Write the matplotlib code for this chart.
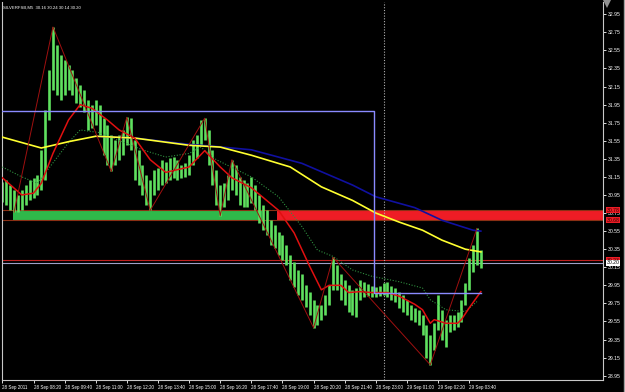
import matplotlib
matplotlib.use("Agg")
import matplotlib.pyplot as plt
from matplotlib import font_manager as fm
from matplotlib.transforms import blended_transform_factory
from matplotlib.patches import Rectangle, Polygon

# pick a narrow font if available (MetaTrader uses a compact pixel font)
try:
    fm.findfont("Liberation Sans Narrow", fallback_to_default=False)
    LABEL_FONT, XFS, YFS, TFS = "Liberation Sans Narrow", 3.95, 4.4, 3.8
except Exception:
    LABEL_FONT, XFS, YFS, TFS = "Liberation Sans", 3.25, 3.7, 3.1
plt.rcParams['font.family'] = [LABEL_FONT, 'DejaVu Sans']

# ---------------- data (one bar = 10 minutes, index from chart start) ----------
bar_high = [31.09,31.12,31.06,31.01,30.95,31.01,31.06,31.12,31.14,31.17,
            31.45,31.89,32.33,32.81,32.61,32.50,32.44,32.39,32.33,32.24,
            32.17,32.11,32.00,31.95,32.00,31.95,31.80,31.72,31.61,31.56,
            31.61,31.67,31.81,31.80,31.56,31.45,31.28,31.17,31.12,31.23,
            31.25,31.34,31.32,31.36,31.37,31.34,31.28,31.30,31.39,31.56,
            31.61,31.78,31.80,31.67,31.45,31.23,31.06,31.08,31.17,31.34,
            31.28,31.15,31.12,31.08,31.15,31.06,30.95,30.84,30.78,30.67,
            30.62,30.54,30.51,30.40,30.29,30.21,30.12,30.07,29.95,29.88,
            29.79,29.73,29.73,29.84,29.95,30.26,30.18,30.07,30.01,29.95,
            29.90,29.92,30.01,29.99,29.97,29.94,29.93,29.94,29.98,29.99,
            29.94,29.92,29.88,29.84,29.79,29.73,29.70,29.68,29.62,29.51,
            29.40,29.53,29.84,29.68,29.57,29.62,29.62,29.65,29.79,29.98,
            30.25,30.40,30.58,30.34]
bar_low = [30.87,30.84,30.78,30.76,30.76,30.78,30.84,30.89,30.92,30.95,
           31.01,31.12,31.78,32.11,32.06,32.00,32.06,32.11,32.06,31.97,
           31.92,31.87,31.67,31.69,31.72,31.61,31.39,31.28,31.21,31.28,
           31.34,31.39,31.50,31.45,31.12,31.06,30.95,30.84,30.78,30.95,
           31.01,31.06,31.08,31.12,31.14,31.12,31.14,31.15,31.17,31.28,
           31.36,31.50,31.56,31.28,31.06,30.84,30.72,30.82,30.89,31.01,
           30.95,30.84,30.82,30.82,30.86,30.78,30.64,30.56,30.51,30.40,
           30.36,30.29,30.23,30.18,30.01,29.93,29.84,29.79,29.71,29.62,
           29.48,29.51,29.57,29.62,29.73,29.90,29.90,29.79,29.73,29.65,
           29.62,29.60,29.79,29.82,29.83,29.82,29.82,29.83,29.84,29.82,
           29.79,29.77,29.70,29.66,29.62,29.57,29.54,29.51,29.40,29.15,
           29.07,29.23,29.46,29.35,29.27,29.43,29.46,29.49,29.54,29.73,
           29.90,30.10,30.18,30.14]

yellow_idx = [0, 10, 17, 24, 34, 48, 56, 64, 74, 82, 90, 96, 102, 108, 113, 119, 123]
yellow_val = [31.59, 31.47, 31.54, 31.60, 31.58, 31.50, 31.48, 31.39, 31.26, 31.04,
              30.89, 30.75, 30.65, 30.56, 30.45, 30.35, 30.32]

blue_idx = [24, 34, 48, 54, 64, 77, 90, 96, 106, 113, 121, 123]
blue_val = [31.60, 31.58, 31.51, 31.49, 31.45, 31.30, 31.06, 30.93, 30.81, 30.67, 30.56, 30.55]

red_idx = [0, 5, 8, 10, 13, 17, 20, 23, 27, 30, 34, 38, 42, 48, 52, 56, 59, 64, 71, 75,
           79, 82, 84, 87, 89, 92, 95, 99, 102, 106, 108, 110, 111, 114, 117, 118, 120, 123]
red_val = [31.14, 30.95, 30.97, 31.08, 31.41, 31.78, 31.95, 31.91, 31.78, 31.67, 31.58,
           31.34, 31.20, 31.26, 31.44, 31.26, 31.14, 31.03, 30.78, 30.53, 30.16, 29.90,
           29.95, 29.95, 29.87, 29.88, 29.87, 29.87, 29.83, 29.74, 29.68, 29.53, 29.57,
           29.53, 29.53, 29.57, 29.70, 29.88]

dotted_idx = [0, 5, 9, 17, 20, 25, 36, 42, 48, 51, 55, 64, 71, 77, 81, 85, 90, 95,
              102, 108, 110, 114, 119, 122]
dotted_val = [31.26, 31.15, 31.08, 31.53, 31.67, 31.64, 31.45, 31.37, 31.41, 31.48,
              31.34, 31.15, 30.93, 30.60, 30.34, 30.27, 30.12, 30.05, 29.99, 29.92,
              29.79, 29.68, 29.66, 29.77]

zigzag_idx = [3, 13, 28, 32, 38, 52, 56, 59, 80, 85, 110, 122]
zigzag_val = [30.76, 32.81, 31.21, 31.81, 30.78, 31.80, 30.72, 31.34, 29.48, 30.26, 29.07, 30.58]

range_idx = [0, 95.6, 95.6, 123]
range_val = [31.88, 31.88, 29.865, 29.865]

zone_top = 30.78
zone_bottom = 30.67
zone_green = (2.6, 66.8)
zone_red_start = 70.6
red_level = 30.23
bid_level = 30.20
separator_idx = 98.2

time_ticks = [0, 8, 16, 24, 32, 40, 48, 56, 64, 72, 80, 88, 96, 104, 112, 120]
time_labels = ["28 Sep 2011", "28 Sep 08:20", "28 Sep 09:40", "28 Sep 11:00",
               "28 Sep 12:20", "28 Sep 13:40", "28 Sep 15:00", "28 Sep 16:20",
               "28 Sep 17:40", "28 Sep 19:00", "28 Sep 20:20", "28 Sep 21:40",
               "28 Sep 23:00", "29 Sep 01:00", "29 Sep 02:20", "29 Sep 03:40"]
price_labels = ["32.95", "32.75", "32.55", "32.35", "32.15", "31.95", "31.75", "31.55",
                "31.35", "31.15", "30.95", "30.75", "30.55", "30.35", "30.15", "29.95",
                "29.75", "29.55", "29.35", "29.15", "28.95"]
title = "SILVERFSB,M5  30.16 30.24 30.14 30.20"

# ---------------- figure ----------------
W, H = 625, 392
fig = plt.figure(figsize=(W / 100, H / 100), dpi=100, facecolor="black")
ax = fig.add_axes([2 / W, 12 / H, 601 / W, 378 / H], facecolor="black")
ax.set_xlim(-0.1, 154.4)
ax.set_ylim(28.902, 33.086)

# zones
ax.add_patch(Rectangle((zone_green[0], zone_bottom), zone_green[1] - zone_green[0],
                       zone_top - zone_bottom, facecolor="#2fb84a", edgecolor="none", zorder=1))
ax.add_patch(Rectangle((zone_red_start, zone_bottom), 160 - zone_red_start,
                       zone_top - zone_bottom, facecolor="#ee1c25", edgecolor="none", zorder=1))
for lv in (zone_top, zone_bottom):
    ax.axhline(lv, color="#8a2f14", lw=0.8, zorder=1.2)

# horizontal price lines
ax.axhline(red_level, color="#c02020", lw=0.8, zorder=1.5)
ax.axhline(bid_level, color="#a0a0c8", lw=0.8, zorder=1.5)

# separator
ax.axvline(separator_idx, color="#b0b0b0", lw=0.8, ls=(0, (1, 1.5)), zorder=1.5)

# price bars
idx = list(range(len(bar_high)))
ax.vlines(idx, bar_low, bar_high, colors="#5fe05f", lw=1.9, zorder=2)

# indicators
ax.plot(dotted_idx, dotted_val, color="#2f8f3f", lw=0.8, ls=(0, (1, 1.5)), zorder=3)
ax.plot(blue_idx, blue_val, color="#1010a0", lw=1.2, zorder=3)
ax.plot(yellow_idx, yellow_val, color="#ffff30", lw=1.2, zorder=3.2)
ax.plot(red_idx, red_val, color="#e01010", lw=1.1, zorder=3.3)
ax.plot(zigzag_idx, zigzag_val, color="#a01010", lw=0.7, zorder=3.4)
ax.plot(range_idx, range_val, color="#8a8aff", lw=1.0, zorder=3.5)

# axes styling
ax.spines["top"].set_visible(False)
for s in ("left", "right", "bottom"):
    ax.spines[s].set_color("#c8c8c8")
    ax.spines[s].set_linewidth(0.8)
ax.yaxis.tick_right()
ax.set_yticks([float(p) for p in price_labels])
ax.set_yticklabels(price_labels)
ax.set_xticks(time_ticks)
ax.set_xticklabels(time_labels, ha="left")
ax.tick_params(axis="y", colors="white", labelsize=YFS, length=2.5, width=0.6, pad=1.2)
ax.tick_params(axis="x", colors="white", labelsize=XFS, length=2.5, width=0.6, pad=0.8)
for lab in ax.get_xticklabels():
    lab.set_horizontalalignment("left")

# right-side price boxes
tr = blended_transform_factory(ax.transAxes, ax.transData)
for val, txt, fc, tc in [(zone_top, "30.78", "#ee1c25", "#300000"),
                         (zone_bottom, "30.68", "#ee1c25", "#300000"),
                         (red_level, "30.23", "#ee1c25", "#300000"),
                         (bid_level, "30.20", "white", "black")]:
    ax.text(1.0065, val, txt, transform=tr, fontsize=YFS, color=tc, va="center", ha="left",
            bbox=dict(boxstyle="square,pad=0.12", fc=fc, ec="none"), zorder=10, clip_on=False)

fig.text(3 / W, 1 - 8 / H, title, color="white", fontsize=TFS, va="center", ha="left")

# chart-shift marker and window edge
fig.patches.append(Polygon([[603 / W, 1.0], [611 / W, 1.0], [607 / W, 1 - 8 / H]],
                           closed=True, transform=fig.transFigure, fc="#909090", ec="none"))
fig.add_artist(plt.Line2D([623.5 / W, 623.5 / W], [0, 1], transform=fig.transFigure,
                          color="#a0a0a0", lw=1))

fig.savefig("out.png", dpi=100, facecolor="black")
